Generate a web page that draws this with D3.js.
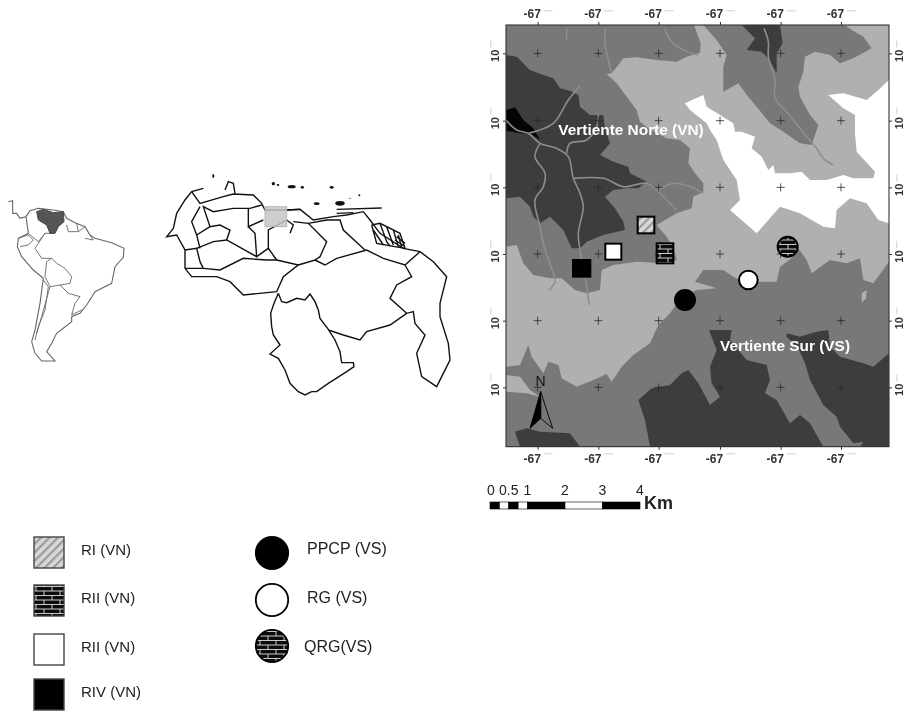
<!DOCTYPE html>
<html><head><meta charset="utf-8">
<script src="https://cdn.jsdelivr.net/npm/d3@7"></script>
<style>html,body{margin:0;background:#fff}svg{display:block;filter:blur(.5px)}text{font-family:"Liberation Sans",Arial,sans-serif}</style>
</head><body><svg id="c" width="905" height="712"></svg>
<script>
// ---- relief map data (map units) ----
const lonTicks=[143,325,506,690,872,1053];
const latTicks=[160,362,562,762,962,1162];
const lonLabel="-67", latLabel="10";
const frame=[48,75,1197,1340];
const zoneBase="#b0b0b0", zoneMid="#787878", zoneDark="#3d3d3d";
const northMid=[[48,75],[612,75],[632,130],[630,158],[590,170],[560,185],[500,180],[440,172],[400,175],[385,195],[365,220],[350,222],[380,250],[410,290],[440,330],[450,365],[475,385],[530,415],[570,420],[600,445],[595,490],[615,520],[640,550],[640,575],[610,590],[605,625],[560,640],[500,675],[530,710],[550,745],[560,780],[520,790],[440,785],[370,795],[335,810],[330,870],[290,880],[255,870],[215,835],[180,835],[130,825],[100,790],[80,735],[48,740]];
const northDark=[[48,165],[80,170],[120,210],[160,225],[190,235],[210,265],[240,272],[265,285],[270,320],[300,345],[340,345],[345,385],[360,430],[330,465],[370,485],[415,500],[420,520],[470,545],[445,565],[410,565],[370,570],[345,590],[375,625],[400,665],[405,690],[340,705],[290,725],[270,745],[245,745],[220,690],[180,650],[150,670],[130,650],[120,620],[90,590],[48,595]];
const northBlack=[[48,330],[75,322],[100,360],[130,385],[150,420],[120,400],[90,400],[48,392]];
const upperMid=[[640,75],[1065,75],[1085,90],[1120,110],[1145,145],[1090,175],[1050,190],[1020,165],[975,155],[945,170],[940,215],[925,260],[930,290],[960,345],[985,375],[965,435],[930,430],[880,395],[840,370],[800,320],[770,285],[745,250],[700,275],[700,200],[710,165],[680,120]];
const upperDark=[[755,75],[870,75],[878,130],[860,160],[860,220],[835,175],[815,155],[770,150],[795,115]];
const whiteZone=[[585,310],[640,285],[650,320],[690,345],[730,370],[735,395],[755,395],[795,410],[785,445],[815,470],[835,510],[850,495],[855,520],[900,520],[935,515],[960,540],[1010,540],[1060,525],[1090,535],[1150,535],[1155,515],[1100,455],[1095,400],[1095,345],[1060,325],[1015,285],[1060,280],[1130,300],[1165,270],[1197,240],[1197,670],[1165,660],[1130,610],[1080,595],[1040,630],[1035,685],[1000,680],[930,640],[870,620],[800,700],[720,630],[750,600],[740,540],[700,480],[680,420],[660,390],[650,370],[600,330]];
const southMid=[[48,1100],[90,1095],[115,1035],[125,1070],[160,1120],[175,1085],[205,1095],[215,1135],[260,1160],[310,1140],[350,1122],[365,1145],[395,1100],[430,1065],[480,1030],[505,975],[540,940],[575,890],[620,870],[680,865],[615,845],[640,810],[700,810],[730,830],[760,845],[860,845],[870,800],[905,775],[925,745],[950,780],[965,820],[1020,780],[1070,790],[1110,775],[1120,840],[1150,850],[1197,785],[1197,1340],[48,1340]];
const southBand=[[48,1125],[90,1130],[120,1170],[150,1190],[110,1180],[48,1175]];
const southDarkA=[[480,1340],[465,1260],[445,1200],[485,1165],[540,1155],[575,1120],[595,1110],[625,1150],[660,1215],[690,1190],[665,1150],[660,1100],[680,1050],[657,990],[725,990],[720,1020],[770,1080],[830,1095],[840,1140],[825,1180],[860,1200],[900,1270],[930,1245],[960,1270],[1000,1340]];
const southDarkB=[[890,1000],[930,1010],[980,995],[1015,990],[1020,1040],[1050,1070],[1120,1090],[1150,1100],[1197,1060],[1197,1340],[1110,1340],[1120,1325],[1090,1330],[1050,1280],[1040,1250],[1000,1215],[960,1140],[945,1090],[925,1045],[890,1010]];
const southDarkC=[[75,1295],[110,1285],[150,1295],[240,1300],[270,1340],[90,1340]];
const lightSpot=[[1115,880],[1130,870],[1128,895],[1115,908]];
const rivers=[
 [[230,85],[230,120]],
 [[345,85],[345,130],[355,180],[365,220]],
 [[525,85],[540,120],[580,150],[625,165]],
 [[822,85],[835,125],[835,170],[855,240],[855,295],[890,335],[950,410],[980,445],[1000,475],[1030,495]],
 [[48,360],[80,390],[115,400],[150,430],[200,445],[235,470],[250,535],[270,580],[280,620],[265,700],[270,750],[285,830],[298,915]],
 [[150,430],[135,470],[165,520],[160,560],[135,600],[150,680],[165,750],[190,820],[195,845],[178,870]],
 [[115,400],[190,370],[235,300],[270,258]],
 [[230,460],[240,430],[290,420],[320,380],[325,345]],
 [[250,535],[340,535],[400,560],[470,550],[505,575],[540,610],[560,630]],
 [[505,570],[550,550],[600,560],[640,580]]];
const siteSquares=[["hatch",468,675,50,50],["brick",525,760,50,60],["white",370,755,48,48],["black",275,805,52,50]];
const siteCircles=[["black",585,900,30],["white",775,840,28],["brick",893,740,30]];
const regionLabels=[["Vertiente Norte (VN)",205,405],["Vertiente Sur (VS)",690,1053]];
const arrowLeft=[[152,1175],[120,1285],[152,1255]];
const arrowRight=[[152,1175],[188,1285],[152,1255]];
// ---- scale bar ----
const kmStops=[0,.25,.5,.75,1,2,3,4];
const kmLabels=[0,.5,1,2,3,4];
// ---- legend ----
const legendSquares=[["RI (VN)","hatch",555],["RII (VN)","brick",603],["RII (VN)","white",652],["RIV (VN)","black",697]];
const legendCircles=[["PPCP (VS)","black",554],["RG (VS)","white",603],["QRG(VS)","brick",652]];
// ---- South America (locator units) ----
const saOutline=[[25,95],[38,92],[38,130],[50,130],[60,145],[78,140],[90,122],[115,115],[160,120],[190,125],[200,145],[225,158],[255,170],[270,195],[285,205],[335,218],[372,235],[370,262],[345,290],[335,340],[285,365],[260,405],[240,430],[215,440],[215,455],[170,490],[155,520],[140,545],[165,573],[125,573],[105,550],[95,515],[105,480],[120,400],[130,325],[100,300],[65,260],[52,230],[55,205],[85,190],[78,140]];
const saBorders=[[[85,190],[115,215],[135,190],[160,190]],[[135,190],[105,235],[125,265],[155,265],[140,275],[135,320],[150,350],[180,345],[210,340],[215,320],[195,295],[170,280],[155,265]],[[180,345],[205,370],[240,380],[225,400],[215,435],[245,420]],[[130,330],[145,350],[135,420],[115,470],[105,510]],[[200,165],[205,185],[235,185],[255,170]],[[230,160],[235,185]],[[55,205],[85,195],[100,210],[85,225],[60,230]],[[255,205],[280,210],[270,195]],[[150,350],[125,440],[110,490]]];
const venezuelaShape=[[110,125],[130,118],[160,128],[190,125],[192,155],[175,170],[165,190],[150,190],[140,165],[115,150]];
// ---- Venezuela (locator units) ----
const veLines=[
 [[610,55],[575,65],[555,90],[530,130],[520,175],[500,200],[530,195],[555,240],[555,295],[575,320],[650,320],[690,335],[730,375],[830,365],[850,320],[895,285],[945,270],[975,285],[1010,265],[1100,240],[1150,265],[1215,285],[1260,245]],
 [[575,65],[600,100],[670,80],[700,72],[760,75],[785,100],[795,120],[860,120],[900,118],[940,150],[1000,140],[1040,135],[1090,125],[1110,150],[1140,190],[1210,235],[1260,245],[1300,275],[1340,320],[1320,400],[1320,440],[1345,520],[1350,570],[1310,650],[1265,620],[1250,550],[1275,495],[1245,460],[1240,425],[1220,430],[1170,385],[1190,345],[1235,320],[1215,285]],
 [[835,370],[822,400],[812,430],[815,470],[820,495],[840,525],[810,552],[835,565],[855,600],[870,640],[895,665],[915,675],[935,665],[950,665],[985,640],[1040,605],[1062,590],[1060,578],[1025,578],[1020,545],[1005,510],[985,478],[960,445],[955,420],[945,395],[930,372],[915,390],[890,385],[860,398],[845,395],[835,370]],
 [[985,480],[1030,495],[1080,510],[1100,485],[1170,465],[1220,430]],
 [[555,295],[610,295],[660,300],[730,265],[800,270],[830,270],[895,285]],
 [[555,240],[590,235],[600,275],[610,295]],
 [[590,235],[640,215],[680,210],[770,260],[765,190],[745,170]],
 [[680,210],[690,180],[660,165],[630,170],[610,110],[640,125],[700,115],[750,115],[785,105]],
 [[600,110],[575,155],[590,195],[630,170]],[[590,195],[600,235]],
 [[770,260],[805,235],[830,270]],
 [[805,235],[805,180],[860,150],[880,165],[870,190]],
 [[880,155],[925,160],[980,215],[960,260],[945,270]],
 [[925,160],[980,150],[1020,150],[1030,180],[1095,240]],
 [[675,60],[685,35],[700,40],[705,70]],
 [[860,120],[900,118]],[[1010,118],[1145,114]],[[1010,130],[1060,128]],[[745,115],[745,170],[790,150]],
 [[1115,165],[1130,220],[1215,235],[1200,190],[1140,160],[1115,165]],
 [[1140,160],[1160,215],[1170,228]],[[1160,170],[1180,225]],[[1180,180],[1195,230]],[[1195,195],[1205,232]],[[1190,200],[1215,220]],[[1120,180],[1150,225]],[[1185,210],[1212,228]]];
const veIslands=[[640,18,3,6],[820,41,5,5],[834,45,4,3],[875,50,12,5],[907,52,5,4],[995,52,6,4],[950,101,9,4],[1020,100,14,7],[1050,85,2,2],[1078,76,3,3]];
const studyBox=[795,110,860,170];

const svg=d3.select("#c");
const defs=svg.append("defs");
const hatch=defs.append("pattern").attr("id","hatch").attr("width",6).attr("height",6).attr("patternUnits","userSpaceOnUse").attr("patternTransform","rotate(-45)");
hatch.append("rect").attr("width",6).attr("height",6).attr("fill","#d8d8d8");
hatch.append("rect").attr("width",6).attr("height",2.2).attr("fill","#9a9a9a");
const brick=defs.append("pattern").attr("id","brick").attr("width",16).attr("height",9).attr("patternUnits","userSpaceOnUse");
brick.append("rect").attr("width",16).attr("height",9).attr("fill","#0c0c0c");
brick.append("path").attr("d","M0 1.5H16M0 6H16M4 1.5V6M12 6V9M12 0V1.5").attr("stroke","#e0e0e0").attr("stroke-width",.9).attr("fill","none");
defs.append("clipPath").attr("id","fr").append("rect").attr("x",506).attr("y",25).attr("width",383).attr("height",422);

const x=d3.scaleLinear().domain([0,1245]).range([490,905]);
const y=d3.scaleLinear().domain([0,1560]).range([0,520]);
const lx=d3.scaleLinear().domain([0,1410]).range([0,470]);
const ly=d3.scaleLinear().domain([0,690]).range([170,400]);
const km=d3.scaleLinear().domain([0,4]).range([490,640]);
const fills={hatch:"url(#hatch)",brick:"url(#brick)",white:"#fff",black:"#000"};
const path=d3.line().x(d=>x(d[0])).y(d=>y(d[1]));
const curve=d3.line().x(d=>x(d[0])).y(d=>y(d[1])).curve(d3.curveCatmullRom);
const lpath=d3.line().x(d=>lx(d[0])).y(d=>ly(d[1]));

// relief map
const m=svg.append("g").attr("clip-path","url(#fr)");
m.append("rect").attr("x",x(frame[0])).attr("y",y(frame[1])).attr("width",x(frame[2])-x(frame[0])).attr("height",y(frame[3])-y(frame[1])).attr("fill",zoneBase);
[[northMid,zoneMid],[upperMid,zoneMid],[whiteZone,"#fff"],[southMid,zoneMid],[southBand,zoneBase],[lightSpot,zoneBase],
 [northDark,zoneDark],[northBlack,"#050505"],[upperDark,zoneDark],[southDarkA,zoneDark],[southDarkB,zoneDark],[southDarkC,zoneDark]]
 .forEach(([p,f])=>m.append("path").attr("d",path(p)+"Z").attr("fill",f));
m.selectAll(".r").data(rivers).join("path").attr("d",curve).attr("fill","none").attr("stroke","#8e8e8e").attr("stroke-width",1.6);
// graticule crosses
latTicks.forEach(la=>lonTicks.forEach(lo=>{
  m.append("path").attr("d",`M${x(lo)-4} ${y(la)}H${x(lo)+4}M${x(lo)} ${y(la)-4}V${y(la)+4}`).attr("stroke","#2a2a2a").attr("stroke-width",.8).attr("fill","none");
}));
svg.append("rect").attr("x",x(frame[0])).attr("y",y(frame[1])).attr("width",x(frame[2])-x(frame[0])).attr("height",y(frame[3])-y(frame[1])).attr("fill","none").attr("stroke","#333").attr("stroke-width",1.1);

// axes
function styleAx(g,size){
  g.select(".domain").remove();
  g.selectAll(".tick line").attr("stroke","#333");
  g.selectAll(".tick text").attr("fill","#333").attr("font-size",size).attr("font-weight","bold");
}
const ax=(g,a,p)=>g.call(a.tickSize(3).tickPadding(p).tickSizeOuter(0));
const axTop=svg.append("g").attr("transform",`translate(0,${y(frame[1])})`);ax(axTop,d3.axisTop(x).tickValues(lonTicks).tickFormat(()=>lonLabel),4);styleAx(axTop,12);axTop.selectAll(".tick text").attr("dx",-6);
const axBot=svg.append("g").attr("transform",`translate(0,${y(frame[3])})`);ax(axBot,d3.axisBottom(x).tickValues(lonTicks).tickFormat(()=>lonLabel),2);styleAx(axBot,12);axBot.selectAll(".tick text").attr("dx",-6).attr("dy",".95em");
const axLeft=svg.append("g").attr("transform",`translate(${x(frame[0])},0)`);ax(axLeft,d3.axisLeft(y).tickValues(latTicks).tickFormat(()=>latLabel),2);styleAx(axLeft,11);
axLeft.selectAll(".tick text").attr("text-anchor","middle").attr("x",0).attr("dy",0).attr("transform","translate(-7,2) rotate(-90)");
const axRight=svg.append("g").attr("transform",`translate(${x(frame[2])},0)`);ax(axRight,d3.axisRight(y).tickValues(latTicks).tickFormat(()=>latLabel),2);styleAx(axRight,11);
axRight.selectAll(".tick text").attr("text-anchor","middle").attr("x",0).attr("dy",0).attr("transform","translate(14,2) rotate(-90)");
// faint tiny seconds marks beside the tick labels
lonTicks.forEach(lo=>[10,453].forEach(yy=>svg.append("rect").attr("x",x(lo)+6).attr("y",yy).attr("width",9).attr("height",1.4).attr("fill","#ddd")));
latTicks.forEach(la=>[490,896].forEach(xx=>svg.append("rect").attr("x",xx).attr("y",y(la)-13).attr("width",1.4).attr("height",7).attr("fill","#ddd")));

// north arrow
m.append("path").attr("d",path(arrowRight)+"Z").attr("fill","#777").attr("stroke","#000").attr("stroke-width",.9);
m.append("path").attr("d",path(arrowLeft)+"Z").attr("fill","#000").attr("stroke","#000").attr("stroke-width",.9);
svg.append("text").attr("x",x(152)).attr("y",y(1157)).attr("text-anchor","middle").attr("font-size",14).attr("fill","#111").text("N");

// sites
svg.selectAll(".s").data(siteSquares).join("rect").attr("x",d=>x(d[1]-d[3]/2)).attr("y",d=>y(d[2]-d[4]/2)).attr("width",d=>x(d[3])-x(0)).attr("height",d=>y(d[4])-y(0)).attr("fill",d=>fills[d[0]]).attr("stroke","#000").attr("stroke-width",2);
svg.selectAll(".k").data(siteCircles).join("circle").attr("cx",d=>x(d[1])).attr("cy",d=>y(d[2])).attr("r",d=>x(d[3])-x(0)).attr("fill",d=>fills[d[0]]).attr("stroke","#000").attr("stroke-width",2);
svg.selectAll(".t").data(regionLabels).join("text").attr("x",d=>x(d[1])).attr("y",d=>y(d[2])).attr("fill","#fff").attr("font-weight","bold").attr("font-size",15.4).text(d=>d[0]);

// scale bar
svg.selectAll(".b").data(kmStops.slice(0,-1)).join("rect").attr("x",d=>km(d)).attr("y",502).attr("height",7)
  .attr("width",(d,i)=>km(kmStops[i+1])-km(d)).attr("fill",(d,i)=>i%2?"#fff":"#000").attr("stroke","#000").attr("stroke-width",.6);
svg.selectAll(".bl").data(kmLabels).join("text").attr("x",d=>d===0?km(d)+1:km(d)).attr("y",495).attr("text-anchor","middle").attr("font-size",14).attr("fill","#222").text(d=>d);
svg.append("text").attr("x",644).attr("y",509).attr("font-size",18).attr("font-weight","bold").attr("fill","#222").text("Km");

// locator: South America
const sa=svg.append("g");
sa.append("path").attr("d",lpath(saOutline)).attr("fill","none").attr("stroke","#666").attr("stroke-width",1.1);
sa.selectAll("path.br").data(saBorders).join("path").attr("class","br").attr("d",lpath).attr("fill","none").attr("stroke","#666").attr("stroke-width",.9);
sa.append("path").attr("d",lpath(venezuelaShape)+"Z").attr("fill","#555").attr("stroke","#444");

// locator: Venezuela
const ve=svg.append("g");
ve.selectAll("path").data(veLines).join("path").attr("d",lpath).attr("fill","none").attr("stroke","#111").attr("stroke-width",1.4);
ve.selectAll("ellipse").data(veIslands).join("ellipse").attr("cx",d=>lx(d[0])).attr("cy",d=>ly(d[1])).attr("rx",d=>lx(d[2])).attr("ry",d=>lx(d[3])).attr("fill","#111");
ve.append("rect").attr("x",lx(studyBox[0])).attr("y",ly(studyBox[1])).attr("width",lx(studyBox[2])-lx(studyBox[0])).attr("height",ly(studyBox[3])-ly(studyBox[1])).attr("fill","#c6c6c6").attr("stroke","#b5b5b5").attr("fill-opacity",.85);

// legend
const lg=svg.append("g");
const sq=lg.selectAll(".q").data(legendSquares).join("g");
sq.append("rect").attr("x",34).attr("y",d=>d[2]-18).attr("width",30).attr("height",31).attr("fill",d=>fills[d[1]]).attr("stroke","#444").attr("stroke-width",1.4);
sq.append("text").attr("x",81).attr("y",d=>d[2]).attr("font-size",15).attr("fill","#222").text(d=>d[0]);
const ci=lg.selectAll(".c").data(legendCircles).join("g");
ci.append("circle").attr("cx",272).attr("cy",(d,i)=>[553,600,646][i]).attr("r",16.2).attr("fill",d=>fills[d[1]]).attr("stroke","#000").attr("stroke-width",1.8);
ci.append("text").attr("x",(d,i)=>i==2?304:307).attr("y",d=>d[2]).attr("font-size",16).attr("fill","#222").text(d=>d[0]);
</script></body></html>
